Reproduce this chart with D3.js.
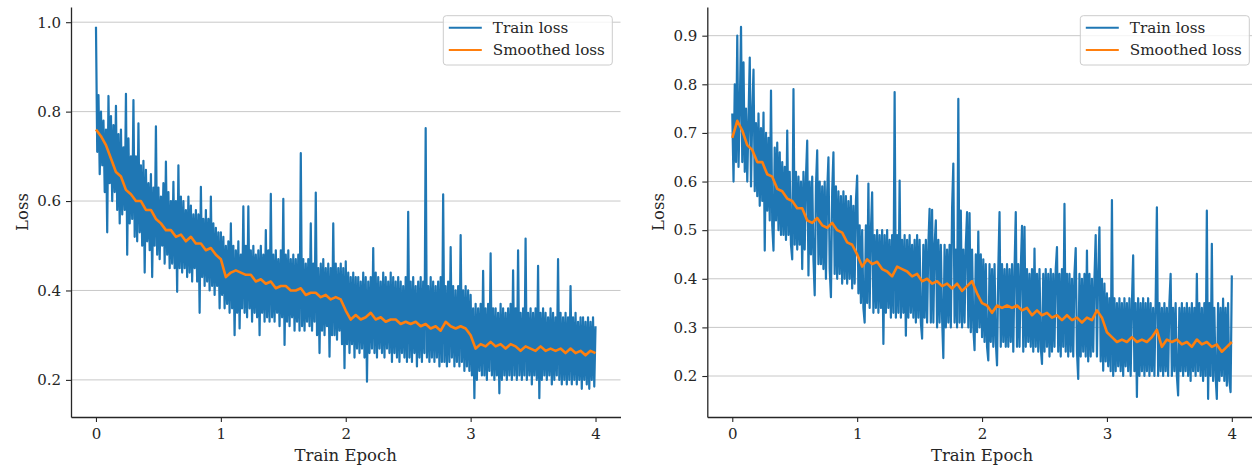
<!DOCTYPE html>
<html>
<head>
<meta charset="utf-8">
<script src="https://cdn.jsdelivr.net/npm/d3@7"></script>
<style>
  body { margin: 0; background: #fff; }
  svg text { font-family: "DejaVu Serif", serif; fill: #262626; }
</style>
</head>
<body>
<svg id="chart" width="1252" height="465"></svg>
<script>
// loss logged 100 times per epoch, smoothed curve read 25 times per epoch
const trainPerEpoch = 100;
const smoothPerEpoch = 25;

const leftTrain = [
  0.99, 0.71, 0.837, 0.66, 0.80, 0.68, 0.78, 0.62, 0.76, 0.53,
  0.835, 0.64, 0.79, 0.60, 0.77, 0.62, 0.813, 0.58, 0.75, 0.55,
  0.76, 0.57, 0.72, 0.58, 0.84, 0.48, 0.74, 0.55, 0.70, 0.56,
  0.826, 0.52, 0.70, 0.51, 0.774, 0.53, 0.68, 0.50, 0.69, 0.44,
  0.67, 0.51, 0.64, 0.49, 0.66, 0.43, 0.63, 0.50, 0.767, 0.48,
  0.63, 0.47, 0.61, 0.50, 0.64, 0.46, 0.688, 0.48, 0.62, 0.45,
  0.60, 0.46, 0.643, 0.45, 0.60, 0.397, 0.68, 0.45, 0.61, 0.44,
  0.60, 0.45, 0.58, 0.43, 0.61, 0.44, 0.59, 0.42, 0.57, 0.45,
  0.58, 0.42, 0.57, 0.35, 0.632, 0.43, 0.56, 0.41, 0.58, 0.42,
  0.56, 0.40, 0.61, 0.41, 0.55, 0.39, 0.54, 0.41, 0.53, 0.36,
  0.53, 0.39, 0.52, 0.36, 0.50, 0.37, 0.51, 0.35, 0.55, 0.36,
  0.50, 0.30, 0.49, 0.35, 0.51, 0.315, 0.48, 0.36, 0.588, 0.35,
  0.50, 0.34, 0.588, 0.36, 0.49, 0.33, 0.50, 0.35, 0.48, 0.34,
  0.49, 0.30, 0.50, 0.35, 0.48, 0.33, 0.535, 0.34, 0.49, 0.33,
  0.616, 0.34, 0.48, 0.33, 0.49, 0.35, 0.47, 0.32, 0.49, 0.34,
  0.605, 0.278, 0.48, 0.33, 0.49, 0.32, 0.47, 0.34, 0.48, 0.31,
  0.47, 0.33, 0.48, 0.31, 0.707, 0.32, 0.47, 0.31, 0.46, 0.33,
  0.47, 0.32, 0.55, 0.31, 0.46, 0.33, 0.619, 0.30, 0.45, 0.26,
  0.46, 0.31, 0.47, 0.30, 0.45, 0.32, 0.46, 0.252, 0.45, 0.30,
  0.55, 0.30, 0.46, 0.29, 0.45, 0.31, 0.46, 0.28, 0.45, 0.226,
  0.465, 0.28, 0.44, 0.26, 0.43, 0.28, 0.44, 0.25, 0.43, 0.27,
  0.43, 0.26, 0.42, 0.27, 0.44, 0.25, 0.43, 0.196, 0.42, 0.26,
  0.43, 0.27, 0.495, 0.26, 0.44, 0.25, 0.43, 0.27, 0.42, 0.26,
  0.44, 0.25, 0.43, 0.27, 0.42, 0.26, 0.44, 0.24, 0.43, 0.26,
  0.42, 0.25, 0.43, 0.24, 0.42, 0.26, 0.41, 0.25, 0.43, 0.24,
  0.576, 0.25, 0.42, 0.24, 0.43, 0.26, 0.41, 0.23, 0.42, 0.25,
  0.43, 0.24, 0.42, 0.26, 0.763, 0.25, 0.41, 0.24, 0.43, 0.25,
  0.42, 0.24, 0.41, 0.25, 0.42, 0.23, 0.43, 0.24, 0.615, 0.24,
  0.41, 0.23, 0.42, 0.24, 0.497, 0.25, 0.41, 0.23, 0.40, 0.24,
  0.41, 0.23, 0.524, 0.24, 0.40, 0.22, 0.41, 0.23, 0.40, 0.22,
  0.39, 0.21, 0.36, 0.159, 0.37, 0.20, 0.36, 0.22, 0.37, 0.21,
  0.444, 0.21, 0.36, 0.20, 0.37, 0.22, 0.483, 0.21, 0.36, 0.20,
  0.36, 0.21, 0.35, 0.17, 0.37, 0.20, 0.36, 0.21, 0.35, 0.20,
  0.36, 0.21, 0.37, 0.20, 0.445, 0.21, 0.36, 0.20, 0.49, 0.21,
  0.35, 0.20, 0.36, 0.21, 0.516, 0.20, 0.35, 0.21, 0.36, 0.19,
  0.35, 0.21, 0.36, 0.20, 0.455, 0.159, 0.35, 0.20, 0.36, 0.21,
  0.35, 0.20, 0.34, 0.21, 0.36, 0.19, 0.35, 0.20, 0.34, 0.21,
  0.47, 0.20, 0.35, 0.19, 0.34, 0.20, 0.35, 0.19, 0.34, 0.20,
  0.41, 0.19, 0.34, 0.20, 0.35, 0.19, 0.33, 0.20, 0.34, 0.18,
  0.34, 0.20, 0.33, 0.19, 0.34, 0.18, 0.33, 0.20, 0.34, 0.185,
  0.32
];

const leftSmooth = [
  0.76, 0.745, 0.725, 0.695, 0.665, 0.655, 0.625, 0.615, 0.60, 0.60,
  0.58, 0.58, 0.56, 0.55, 0.535, 0.535, 0.52, 0.525, 0.51, 0.52,
  0.505, 0.505, 0.49, 0.495, 0.48, 0.47, 0.43, 0.44, 0.445, 0.44,
  0.435, 0.435, 0.42, 0.425, 0.415, 0.42, 0.405, 0.41, 0.41, 0.40,
  0.40, 0.405, 0.39, 0.395, 0.395, 0.385, 0.39, 0.38, 0.385, 0.38,
  0.355, 0.335, 0.345, 0.335, 0.34, 0.35, 0.335, 0.34, 0.33, 0.335,
  0.335, 0.325, 0.33, 0.325, 0.33, 0.32, 0.325, 0.315, 0.32, 0.31,
  0.33, 0.32, 0.315, 0.32, 0.315, 0.30, 0.27, 0.28, 0.275, 0.285,
  0.275, 0.28, 0.27, 0.28, 0.275, 0.265, 0.275, 0.27, 0.265, 0.275,
  0.265, 0.27, 0.265, 0.27, 0.26, 0.27, 0.26, 0.265, 0.255, 0.265,
  0.26
];

const rightTrain = [
  0.74, 0.60, 0.80, 0.64, 0.90, 0.63, 0.75, 0.918, 0.64, 0.845,
  0.62, 0.75, 0.60, 0.73, 0.855, 0.59, 0.74, 0.83, 0.58, 0.72,
  0.57, 0.74, 0.55, 0.71, 0.56, 0.742, 0.458, 0.70, 0.54, 0.69,
  0.52, 0.787, 0.51, 0.458, 0.67, 0.52, 0.68, 0.50, 0.66, 0.49,
  0.64, 0.49, 0.63, 0.48, 0.705, 0.49, 0.62, 0.47, 0.44, 0.79,
  0.47, 0.62, 0.46, 0.61, 0.47, 0.60, 0.42, 0.62, 0.46, 0.61,
  0.684, 0.407, 0.60, 0.45, 0.61, 0.44, 0.366, 0.59, 0.664, 0.43,
  0.60, 0.43, 0.59, 0.42, 0.60, 0.40, 0.58, 0.65, 0.42, 0.362,
  0.58, 0.66, 0.41, 0.59, 0.40, 0.58, 0.41, 0.57, 0.39, 0.58,
  0.40, 0.57, 0.39, 0.56, 0.40, 0.57, 0.38, 0.55, 0.39, 0.56,
  0.612, 0.37, 0.51, 0.35, 0.50, 0.34, 0.31, 0.51, 0.35, 0.596,
  0.34, 0.50, 0.578, 0.33, 0.49, 0.34, 0.50, 0.33, 0.49, 0.34,
  0.50, 0.266, 0.49, 0.33, 0.50, 0.34, 0.48, 0.32, 0.49, 0.33,
  0.784, 0.32, 0.49, 0.33, 0.602, 0.32, 0.48, 0.33, 0.49, 0.283,
  0.48, 0.32, 0.49, 0.33, 0.47, 0.32, 0.48, 0.31, 0.49, 0.32,
  0.48, 0.31, 0.277, 0.47, 0.32, 0.48, 0.31, 0.47, 0.544, 0.31,
  0.542, 0.31, 0.47, 0.52, 0.30, 0.48, 0.31, 0.47, 0.32, 0.237,
  0.47, 0.30, 0.46, 0.31, 0.47, 0.30, 0.544, 0.637, 0.31, 0.46,
  0.30, 0.77, 0.31, 0.54, 0.30, 0.46, 0.31, 0.47, 0.537, 0.30,
  0.535, 0.29, 0.46, 0.30, 0.253, 0.45, 0.29, 0.497, 0.30, 0.45,
  0.28, 0.44, 0.27, 0.43, 0.26, 0.232, 0.43, 0.27, 0.42, 0.26,
  0.43, 0.27, 0.222, 0.42, 0.537, 0.26, 0.43, 0.27, 0.42, 0.26,
  0.43, 0.26, 0.42, 0.27, 0.43, 0.25, 0.42, 0.537, 0.26, 0.43,
  0.26, 0.42, 0.509, 0.25, 0.507, 0.26, 0.42, 0.27, 0.41, 0.26,
  0.42, 0.25, 0.462, 0.26, 0.41, 0.25, 0.42, 0.26, 0.225, 0.41,
  0.25, 0.42, 0.26, 0.41, 0.24, 0.42, 0.25, 0.41, 0.26, 0.42,
  0.465, 0.25, 0.41, 0.24, 0.42, 0.26, 0.554, 0.25, 0.41, 0.24,
  0.41, 0.25, 0.40, 0.24, 0.41, 0.463, 0.25, 0.194, 0.41, 0.24,
  0.40, 0.25, 0.41, 0.24, 0.458, 0.23, 0.41, 0.24, 0.40, 0.25,
  0.40, 0.49, 0.24, 0.41, 0.506, 0.23, 0.40, 0.211, 0.39, 0.23,
  0.37, 0.22, 0.36, 0.21, 0.562, 0.20, 0.36, 0.21, 0.35, 0.22,
  0.36, 0.21, 0.35, 0.20, 0.36, 0.22, 0.35, 0.21, 0.36, 0.20,
  0.35, 0.448, 0.21, 0.35, 0.157, 0.36, 0.20, 0.35, 0.21, 0.36,
  0.20, 0.35, 0.21, 0.36, 0.20, 0.35, 0.21, 0.34, 0.20, 0.35,
  0.547, 0.20, 0.35, 0.21, 0.34, 0.20, 0.35, 0.21, 0.34, 0.20,
  0.35, 0.41, 0.20, 0.34, 0.21, 0.35, 0.20, 0.16, 0.34, 0.21,
  0.35, 0.20, 0.34, 0.21, 0.35, 0.20, 0.34, 0.19, 0.35, 0.21,
  0.34, 0.20, 0.41, 0.21, 0.35, 0.20, 0.34, 0.19, 0.35, 0.20,
  0.54, 0.153, 0.35, 0.20, 0.472, 0.19, 0.34, 0.20, 0.153, 0.35,
  0.19, 0.34, 0.20, 0.359, 0.19, 0.34, 0.18, 0.35, 0.19, 0.167,
  0.407
];

const rightSmooth = [
  0.69, 0.725, 0.705, 0.675, 0.665, 0.64, 0.64, 0.615, 0.61, 0.585,
  0.58, 0.565, 0.56, 0.545, 0.545, 0.52, 0.515, 0.525, 0.51, 0.505,
  0.515, 0.50, 0.495, 0.475, 0.47, 0.45, 0.425, 0.44, 0.43, 0.435,
  0.42, 0.415, 0.405, 0.425, 0.42, 0.415, 0.405, 0.41, 0.395, 0.40,
  0.39, 0.395, 0.385, 0.39, 0.38, 0.39, 0.375, 0.385, 0.395, 0.37,
  0.35, 0.345, 0.33, 0.345, 0.34, 0.345, 0.34, 0.345, 0.335, 0.34,
  0.325, 0.335, 0.325, 0.33, 0.32, 0.325, 0.315, 0.325, 0.315, 0.32,
  0.31, 0.32, 0.315, 0.335, 0.32, 0.29, 0.28, 0.27, 0.275, 0.27,
  0.28, 0.27, 0.275, 0.27, 0.28, 0.295, 0.26, 0.275, 0.27, 0.275,
  0.265, 0.27, 0.26, 0.275, 0.265, 0.27, 0.26, 0.265, 0.25, 0.26,
  0.27
];

const epochTicks = [0, 1, 2, 3, 4];
const leftLossTicks = [0.2, 0.4, 0.6, 0.8, 1.0];
const rightLossTicks = [0.2, 0.3, 0.4, 0.5, 0.6, 0.7, 0.8, 0.9];
const legendLabels = ["Train loss", "Smoothed loss"];
const colors = ["#1f77b4", "#ff7f0e"];

const svg = d3.select("#chart");

function toPoints(values, perEpoch) {
  return values.map((v, i) => [i / perEpoch, v]);
}

function drawPanel(opt) {
  const x = d3.scaleLinear().domain([-0.2, 4.2]).range([opt.left, opt.left + 549.5]);
  const y = d3.scaleLinear().domain(opt.yDomain).range([417, 7]);
  const g = svg.append("g");

  // horizontal grid only
  g.append("g").selectAll("line")
    .data(opt.yTicks)
    .join("line")
    .attr("x1", x.range()[0]).attr("x2", x.range()[1])
    .attr("y1", d => y(d)).attr("y2", d => y(d))
    .attr("stroke", "#c8c8c8").attr("stroke-width", 1);

  const line = d3.line().x(d => x(d[0])).y(d => y(d[1]));

  g.append("path")
    .datum(toPoints(opt.train, trainPerEpoch))
    .attr("d", line)
    .attr("fill", "none")
    .attr("stroke", colors[0])
    .attr("stroke-width", 2.2)
    .attr("stroke-linejoin", "round");

  g.append("path")
    .datum(toPoints(opt.smooth, smoothPerEpoch))
    .attr("d", line)
    .attr("fill", "none")
    .attr("stroke", colors[1])
    .attr("stroke-width", 2.6)
    .attr("stroke-linejoin", "round");

  const yAxis = g.append("g")
    .attr("transform", `translate(${opt.left},0)`)
    .call(d3.axisLeft(y).tickValues(opt.yTicks).tickFormat(d3.format(".1f"))
      .tickSize(5).tickPadding(5).tickSizeOuter(0));
  const xAxis = g.append("g")
    .attr("transform", "translate(0,417)")
    .call(d3.axisBottom(x).tickValues(epochTicks).tickFormat(d3.format("d"))
      .tickSize(5).tickPadding(6).tickSizeOuter(0));

  [xAxis, yAxis].forEach(a => {
    a.select(".domain").attr("stroke", "#262626").attr("stroke-width", 1.3);
    a.selectAll(".tick line").attr("stroke", "#262626").attr("stroke-width", 1.1);
    a.selectAll(".tick text")
      .attr("font-family", "DejaVu Serif")
      .attr("font-size", 15)
      .attr("fill", "#262626");
  });

  g.append("text")
    .attr("x", (x.range()[0] + x.range()[1]) / 2)
    .attr("y", 461)
    .attr("text-anchor", "middle")
    .attr("font-size", 16.5)
    .text("Train Epoch");

  g.append("text")
    .attr("transform", `translate(${opt.left - 43},212) rotate(-90)`)
    .attr("text-anchor", "middle")
    .attr("font-size", 16.5)
    .text("Loss");

  // legend
  const lg = g.append("g").attr("transform", `translate(${opt.legendX},15.7)`);
  lg.append("rect")
    .attr("width", 169).attr("height", 49.3)
    .attr("rx", 3)
    .attr("fill", "#fff").attr("fill-opacity", 0.8)
    .attr("stroke", "#cccccc").attr("stroke-width", 1);
  legendLabels.forEach((lab, i) => {
    const yy = 12 + i * 22.3;
    lg.append("line")
      .attr("x1", 5.5).attr("x2", 38.5)
      .attr("y1", yy).attr("y2", yy)
      .attr("stroke", colors[i]).attr("stroke-width", 2);
    lg.append("text")
      .attr("x", 49.5).attr("y", yy + 5)
      .attr("font-size", 15.2)
      .text(lab);
  });
}

drawPanel({
  left: 71, yDomain: [0.117, 1.034], yTicks: leftLossTicks,
  train: leftTrain, smooth: leftSmooth, legendX: 443.3
});
drawPanel({
  left: 707.3, yDomain: [0.1157, 0.959], yTicks: rightLossTicks,
  train: rightTrain, smooth: rightSmooth, legendX: 1080.3
});
</script>
</body>
</html>
